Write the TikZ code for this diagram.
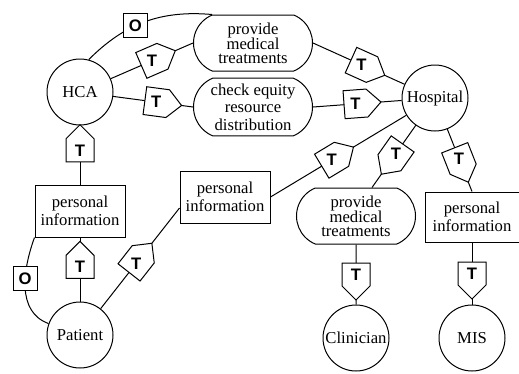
\documentclass[tikz,border=0pt]{standalone}
\usepackage{fontspec}
\setmainfont{Liberation Serif}
\setsansfont{Liberation Sans}
\usetikzlibrary{shapes.misc,shapes.symbols}

\tikzset{
  actor/.style={circle, draw, minimum size=39.6pt, inner sep=0pt},
  goal/.style={rounded rectangle, rounded rectangle arc length=135, draw, minimum width=71.4pt, minimum height=33.6pt, inner xsep=0pt, align=center},
  res/.style={rectangle, draw, minimum width=54pt, minimum height=31.2pt, inner sep=0pt, align=center},
  tmark/.style={signal, signal to=east, draw, fill=white, minimum width=22.2pt, minimum height=16.8pt, inner sep=0pt, sloped, allow upside down},
  tlabel/.style={font=\sffamily\bfseries, inner sep=0pt},
  omark/.style={draw, fill=white, minimum size=14.4pt, inner sep=0pt, font=\sffamily\bfseries}
}

\begin{document}
\begin{tikzpicture}[x=0.6pt, y=0.6pt, line width=0.6pt, font=\fontsize{10}{10.5}\selectfont]
\useasboundingbox (0,0) rectangle (519,-373);
\node[actor] (hca) at (80,-92) {HCA};
\node[actor] (hosp) at (435,-98) {Hospital};
\node[actor] (patient) at (80,-335) {Patient};
\node[actor] (clin) at (356,-338) {Clinician};
\node[actor] (mis) at (472,-338) {MIS};
\node[goal] (goal1) at (253,-43) {provide\\[-1.5pt]medical\\[-2pt]treatments};
\node[goal] (goal2) at (253,-107) {check equity\\resource\\distribution};
\node[goal] (goal3) at (356,-216) {provide\\[-1.5pt]medical\\[-2pt]treatments};
\node[res] (pinfo1) at (80,-211) {personal\\information};
\node[res] (pinfo2) at (225,-197) {personal\\information};
\node[res, minimum width=56.4pt, minimum height=30pt] (pinfo3) at (472,-217) {personal\\information};

\draw (hca) -- node[tmark, pos=.5] (t1) {} (goal1.west);
\draw (hca) -- node[tmark, pos=.54] (t2) {} (goal2.west);
\draw (goal1.east) -- node[tmark, pos=.53] (t3) {} (hosp);
\draw (goal2.east) -- node[tmark, pos=.48] (t4) {} (hosp);
\draw (pinfo1) -- node[tmark, pos=.58] (t5) {} (hca);
\draw (patient) -- node[tmark, pos=.54] (t6) {} (pinfo1);
\draw (patient) -- node[tmark, pos=.45] (t7) {} ([yshift=-6.6pt]pinfo2.west);
\draw (pinfo2.east) -- node[tmark, pos=.45] (t8) {} (hosp);
\draw (hosp) -- node[tmark, pos=.45] (t9) {} ([xshift=9.6pt]goal3.north);
\draw (goal3) -- node[tmark, pos=.5] (t10) {} (clin);
\draw (hosp) -- node[tmark, pos=.47] (t11) {} (pinfo3.north);
\draw (pinfo3) -- node[tmark, pos=.5] (t12) {} (mis);
\foreach \i in {1,...,12} \node[tlabel] at (t\i) {T};

\draw (hca.75) to[out=45, in=175] node[omark, pos=.42] (o1) {O} (goal1.north west);
\draw (pinfo1.south west) to[out=250, in=160] node[omark, pos=.4] (o2) {O} (patient);
\end{tikzpicture}
\end{document}
